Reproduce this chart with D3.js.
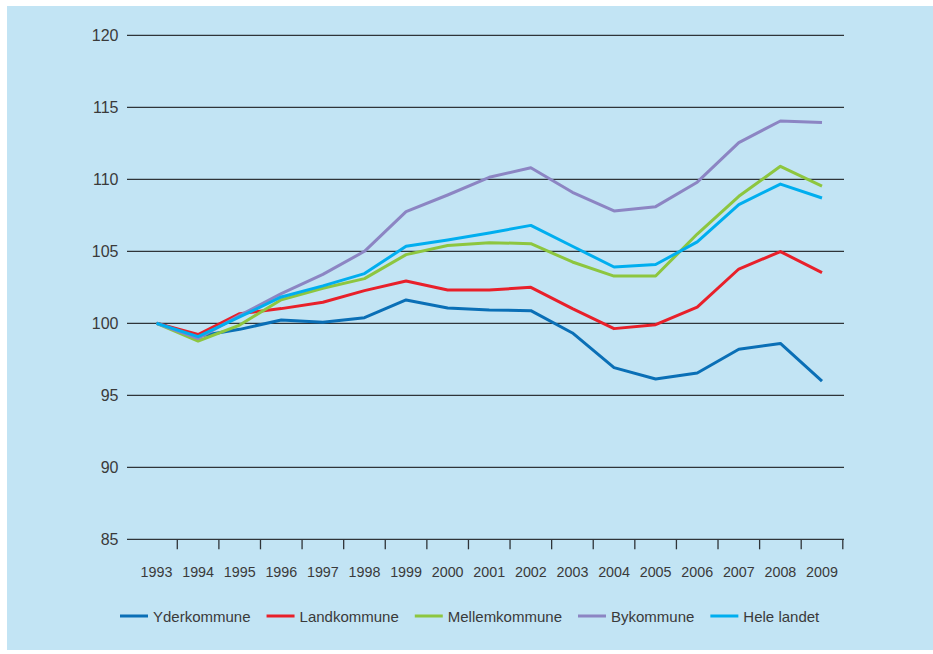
<!DOCTYPE html>
<html>
<head>
<meta charset="utf-8">
<script src="https://cdn.jsdelivr.net/npm/d3@7"></script>
<style>
  html, body { margin: 0; padding: 0; background: #ffffff; }
  svg { display: block; }
  text { font-family: "Liberation Sans", Arial, sans-serif; fill: #3a3a3a; }
</style>
</head>
<body>
<script>
// Data (index, 1993 = 100)
const years = [1993, 1994, 1995, 1996, 1997, 1998, 1999, 2000, 2001,
               2002, 2003, 2004, 2005, 2006, 2007, 2008, 2009];

const yderkommune   = [100, 99.1, 99.58, 100.23, 100.07, 100.39, 101.62, 101.06, 100.92,
                       100.88, 99.33, 96.92, 96.13, 96.55, 98.2, 98.6, 95.99];
const landkommune   = [100, 99.22, 100.67, 101.02, 101.46, 102.27, 102.94, 102.31, 102.31,
                       102.5, 101.02, 99.63, 99.9, 101.13, 103.77, 104.98, 103.52];
const mellemkommune = [100, 98.77, 99.88, 101.64, 102.43, 103.1, 104.77, 105.4, 105.6,
                       105.53, 104.26, 103.28, 103.28, 106.2, 108.82, 110.9, 109.53];
const bykommune     = [100, 98.94, 100.55, 102.06, 103.4, 105.0, 107.75, 108.91, 110.14,
                       110.8, 109.1, 107.8, 108.1, 109.8, 112.55, 114.05, 113.94];
const heleLandet    = [100, 99.07, 100.44, 101.83, 102.6, 103.45, 105.35, 105.79, 106.27,
                       106.8, 105.35, 103.91, 104.08, 105.65, 108.24, 109.67, 108.7];

const seriesNames = ["Yderkommune", "Landkommune", "Mellemkommune", "Bykommune", "Hele landet"];
const seriesColors = ["#0a6fb6", "#e8202a", "#8dc63f", "#8c85c3", "#00aeef"];
const seriesValues = [yderkommune, landkommune, mellemkommune, bykommune, heleLandet];

const yTicks = [85, 90, 95, 100, 105, 110, 115, 120];

const width = 933, height = 654;
const svg = d3.select("body").append("svg")
    .attr("width", width)
    .attr("height", height);

// panel background
svg.append("rect")
    .attr("x", 7).attr("y", 6)
    .attr("width", width - 7).attr("height", 644)
    .attr("fill", "#c2e4f4");

const plotLeft = 127, plotRight = 844;

const x = d3.scalePoint()
    .domain(years)
    .range([156.5, 822]);

const y = d3.scaleLinear()
    .domain([85, 120])
    .range([539.3, 35.3]);

// gridlines
svg.append("g")
  .selectAll("line")
  .data(yTicks)
  .join("line")
    .attr("x1", plotLeft)
    .attr("x2", plotRight)
    .attr("y1", d => y(d))
    .attr("y2", d => y(d))
    .attr("stroke", "#2f3438")
    .attr("stroke-width", 1.3);

// y labels
svg.append("g")
  .selectAll("text")
  .data(yTicks)
  .join("text")
    .attr("x", 118.5)
    .attr("y", d => y(d))
    .attr("dy", "0.36em")
    .attr("text-anchor", "end")
    .attr("font-size", 16)
    .text(d => d);

// x tick marks between categories
const step = x.step();
svg.append("g")
  .selectAll("line")
  .data(years)
  .join("line")
    .attr("x1", d => x(d) + step / 2)
    .attr("x2", d => x(d) + step / 2)
    .attr("y1", y(85))
    .attr("y2", y(85) + 10)
    .attr("stroke", "#2f3438")
    .attr("stroke-width", 1.3);

// x labels
svg.append("g")
  .selectAll("text")
  .data(years)
  .join("text")
    .attr("x", d => x(d))
    .attr("y", 576.5)
    .attr("text-anchor", "middle")
    .attr("font-size", 14.3)
    .text(d => d);

// lines
const line = d3.line()
    .x((d, i) => x(years[i]))
    .y(d => y(d));

seriesValues.forEach((vals, i) => {
    svg.append("path")
        .datum(vals)
        .attr("fill", "none")
        .attr("stroke", seriesColors[i])
        .attr("stroke-width", 3)
        .attr("stroke-linejoin", "round")
        .attr("d", line);
});

// legend
const legend = svg.append("g");
let lx = 120;
seriesNames.forEach((name, i) => {
    legend.append("line")
        .attr("x1", lx).attr("x2", lx + 28)
        .attr("y1", 616).attr("y2", 616)
        .attr("stroke", seriesColors[i])
        .attr("stroke-width", 3);
    const t = legend.append("text")
        .attr("x", lx + 33)
        .attr("y", 621.5)
        .attr("font-size", 15)
        .text(name);
    lx += 33 + t.node().getComputedTextLength() + 16;
});
</script>
</body>
</html>
